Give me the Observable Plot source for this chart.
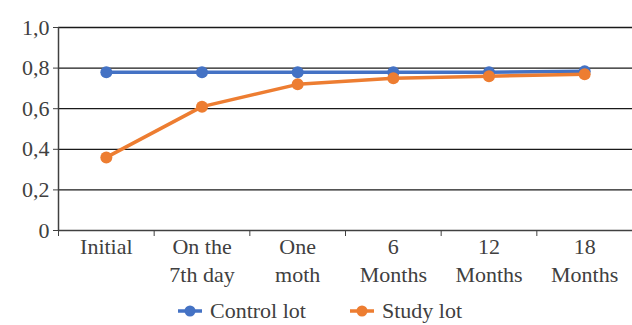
<!DOCTYPE html>
<html>
<head>
<meta charset="utf-8">
<script src="https://cdn.jsdelivr.net/npm/d3@7"></script>
<script src="https://cdn.jsdelivr.net/npm/@observablehq/plot@0.6"></script>
</head>
<body style="margin:0;background:#fff">
<div id="chart"></div>
<div id="legend" style="display:flex;justify-content:center;align-items:center;gap:44px;height:35px;margin-top:3px;font-size:22px;color:#404040;padding-left:8px"></div>
<script>
const categories = ["Initial", "On the\n7th day", "One\nmoth", "6\nMonths", "12\nMonths", "18\nMonths"];
const controlLot = [0.78, 0.78, 0.78, 0.78, 0.78, 0.785];
const studyLot = [0.36, 0.61, 0.72, 0.75, 0.76, 0.77];
const yTicks = [0, 0.2, 0.4, 0.6, 0.8, 1.0];
const seriesNames = ["Control lot", "Study lot"];
const seriesColors = ["#4472C4", "#ED7D31"];

const FONT = "'Liberation Serif', 'Times New Roman', serif";
const rows = categories.map((c, i) => ({pos: i + 0.5, label: c, control: controlLot[i], study: studyLot[i]}));
const boundaries = d3.range(categories.length + 1);
const fmt = d => d === 0 ? "0" : d.toFixed(1).replace(".", ",");

const chart = Plot.plot({
  width: 632,
  height: 290,
  marginLeft: 58,
  marginRight: 0,
  marginTop: 27,
  marginBottom: 60,
  style: {fontSize: "22px", color: "#404040", background: "#fff"},
  x: {type: "linear", domain: [0, categories.length]},
  y: {domain: [0, 1]},
  marks: [
    Plot.ruleY(yTicks.filter(d => d > 0), {stroke: "#1a1a1a", strokeWidth: 1.3}),
    Plot.axisY({ticks: yTicks, tickFormat: fmt, tickSize: 5, tickPadding: 4, fontSize: 22, stroke: "#404040", fill: "#404040", label: null}),
    Plot.axisX({ticks: boundaries, tickFormat: () => "", tickSize: 6, stroke: "#404040", label: null}),
    Plot.ruleY([0], {stroke: "#404040", strokeWidth: 1.5}),
    Plot.ruleX([0], {stroke: "#404040", strokeWidth: 1.5}),
    Plot.text(rows, {x: "pos", y: () => 0, text: "label", lineAnchor: "top", dy: 4, lineHeight: 1.27, fontSize: 22, fill: "#404040"}),
    Plot.line(rows, {x: "pos", y: "control", stroke: seriesColors[0], strokeWidth: 3.5}),
    Plot.dot(rows, {x: "pos", y: "control", r: 6, fill: seriesColors[0]}),
    Plot.line(rows, {x: "pos", y: "study", stroke: seriesColors[1], strokeWidth: 3.5}),
    Plot.dot(rows, {x: "pos", y: "study", r: 6, fill: seriesColors[1]})
  ]
});
document.getElementById("chart").appendChild(chart);

const legend = document.getElementById("legend");
seriesNames.forEach((name, i) => {
  const item = document.createElement("div");
  item.style.cssText = "display:flex;align-items:center;gap:8px";
  item.innerHTML = `<svg width="24" height="14"><line x1="0" y1="7" x2="24" y2="7" stroke="${seriesColors[i]}" stroke-width="3.5"/><circle cx="12" cy="7" r="5.5" fill="${seriesColors[i]}"/></svg><span>${name}</span>`;
  legend.appendChild(item);
});
[document.body, chart, ...chart.querySelectorAll("g, text, tspan"), legend, ...legend.querySelectorAll("div, span")]
  .forEach(el => el.style.setProperty("font-family", FONT, "important"));
</script>
</body>
</html>
